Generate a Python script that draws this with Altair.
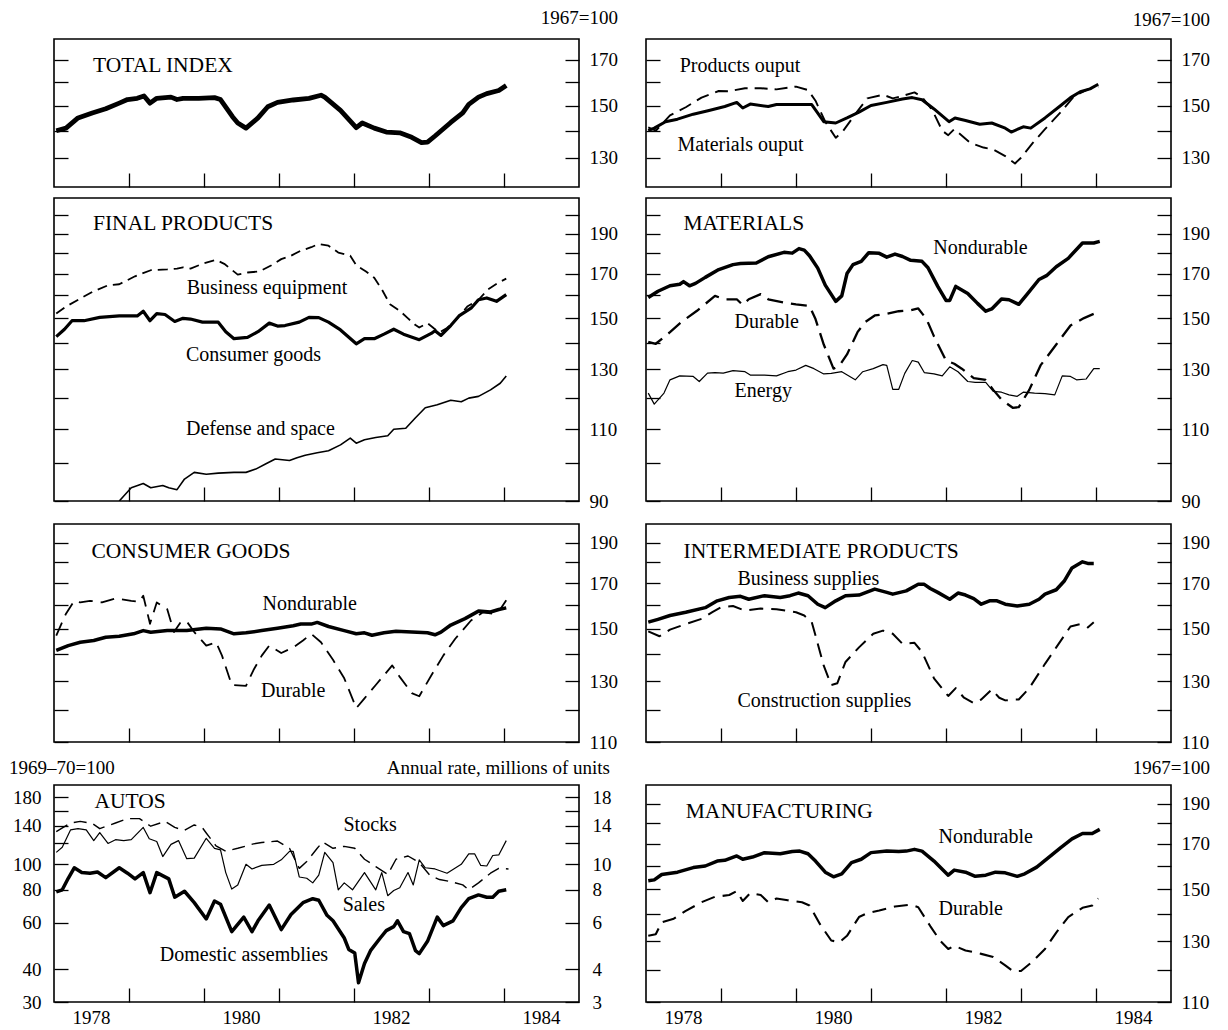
import altair as alt
import pandas as pd

BASE_YEAR = 1978
FONT = "Liberation Serif"
PANEL_W = 525

# ---------------- data: t = years after Jan 1978, v = index (1967=100) ----------------
TOTAL_T = [.03, .16, .32, .51, .69, .87, .98, 1.11, 1.2, 1.28, 1.37, 1.56, 1.64, 1.72, 1.93, 2.14, 2.22, 2.38, 2.45, 2.56,
           2.72, 2.85, 2.98, 3.19, 3.4, 3.56, 3.61, 3.82, 4.03, 4.11, 4.27, 4.43, 4.61, 4.77, 4.9, 4.98, 5.08, 5.29, 5.45,
           5.53, 5.66, 5.77, 5.93, 6.03]
TOTAL_V = [140, 141, 145, 147, 148.7, 151, 152.5, 153, 154, 151, 153, 153.5, 152.5, 153, 153, 153.3, 152.5, 145.5, 143, 141,
           145, 149.5, 151.3, 152.3, 153, 154.3, 153.5, 148, 141.2, 143, 141, 139.5, 139.2, 137.5, 135.5, 135.7, 138, 143.2,
           147, 150.5, 153.5, 155, 156.3, 158.5]

PROD_T = [.03, .11, .26, .42, .63, .84, 1.05, 1.21, 1.29, 1.39, 1.63, 1.74, 2.21, 2.37, 2.53, 2.68, 2.84, 3.0, 3.21, 3.42,
          3.55, 3.68, 3.84, 4.04, 4.12, 4.26, 4.45, 4.61, 4.79, 4.87, 5.03, 5.13, 5.32, 5.53, 5.66, 5.79, 5.92, 6.03]
PROD_V = [140, 141, 143.5, 144.5, 146.5, 148, 149.6, 151.3, 149, 150.6, 149.6, 150.4, 150.4, 143.5, 143, 145, 147.3, 150,
          151.3, 152.7, 153.3, 152.4, 148.6, 143.5, 145, 144, 142.5, 143, 141, 139.5, 141.5, 141, 145, 150, 153.3, 155.8,
          157, 159]
MATOUT_T = [.03, .13, .32, .53, .74, .97, 1.11, 1.32, 1.53, 1.74, 2.0, 2.16, 2.26, 2.39, 2.53, 2.63, 2.79, 2.95, 3.16, 3.29,
            3.42, 3.58, 3.68, 3.82, 3.95, 4.03, 4.11, 4.32, 4.5, 4.63, 4.79, 4.92, 5.0, 5.16, 5.32, 5.53, 5.71, 5.89, 6.03]
MATOUT_V = [141.3, 140, 146, 149.3, 153.3, 156.1, 156, 157.3, 157.3, 156.8, 158, 156.5, 152, 143.5, 137.3, 140, 146.5, 153,
            154.5, 153, 154, 155.5, 153.6, 148, 140, 138.3, 140.6, 135.5, 133.7, 133, 130.6, 128, 130, 135.5, 140.6, 147.3,
            154, 156.8, 158]

BUSEQ_T = [.03, .16, .35, .51, .72, .87, 1.08, 1.29, 1.51, 1.64, 1.72, 1.82, 1.98, 2.16, 2.27, 2.45, 2.58, 2.74, 2.9, 3.03,
           3.16, 3.29, 3.43, 3.53, 3.66, 3.79, 3.95, 4.03, 4.16, 4.27, 4.37, 4.48, 4.61, 4.72, 4.82, 4.87, 4.98, 5.06, 5.14,
           5.24, 5.35, 5.51, 5.66, 5.79, 5.93, 6.03]
BUSEQ_V = [152, 155, 158.5, 161.5, 164.5, 165, 168.7, 171.6, 172, 172.4, 173, 172.4, 174.7, 176.6, 174.7, 169.5, 170.5, 171,
           174, 177, 178.7, 181.2, 183, 184.7, 183.8, 180.3, 178.7, 174, 171, 168, 162.7, 156, 153.2, 150, 147.2, 146.2,
           148, 146, 144.2, 146, 149, 155, 158, 162.7, 165.8, 167.6]
CONS_T = [.03, .14, .24, .4, .61, .87, 1.11, 1.19, 1.28, 1.37, 1.48, 1.61, 1.72, 1.82, 1.98, 2.19, 2.29, 2.4, 2.58, 2.72,
          2.87, 2.98, 3.08, 3.27, 3.4, 3.53, 3.66, 3.82, 4.03, 4.14, 4.27, 4.4, 4.53, 4.66, 4.87, 5.03, 5.08, 5.16, 5.29,
          5.4, 5.56, 5.66, 5.77, 5.9, 6.03]
CONS_V = [142.5, 145.5, 149, 149, 150.4, 151, 151, 153, 149, 152, 151.6, 148.7, 150, 149.7, 148.4, 148.4, 144.5, 141.7,
          142.2, 144.5, 148, 146.8, 147, 148.4, 150.4, 150.3, 148.4, 145.2, 139.7, 141.7, 141.7, 143.5, 145.5, 143.5,
          141.3, 143.8, 144.9, 143, 147, 151, 154.3, 158, 158.8, 157.3, 160.3]
DEF_T = [.87, 1.03, 1.19, 1.29, 1.45, 1.53, 1.64, 1.74, 1.87, 2.03, 2.19, 2.4, 2.56, 2.69, 2.82, 2.95, 3.14, 3.24, 3.35,
         3.51, 3.66, 3.82, 3.95, 4.03, 4.14, 4.29, 4.45, 4.53, 4.69, 4.82, 4.95, 5.11, 5.29, 5.43, 5.53, 5.66, 5.82, 5.95,
         6.03]
DEF_V = [90, 93.4, 94.5, 93.4, 94, 93.4, 92.9, 95.7, 97.5, 97, 97.3, 97.5, 97.5, 98.4, 99.8, 101.2, 100.8, 101.6, 102.3,
         103, 103.6, 105.3, 107.3, 105.8, 106.8, 107.5, 108, 110, 110.3, 113.6, 116.8, 117.8, 119.3, 118.8, 120, 120.6,
         122.8, 125.1, 127.7]

MATND_T = [.03, .16, .32, .45, .5, .58, .66, .79, .97, 1.16, 1.26, 1.47, 1.63, 1.84, 1.95, 2.04, 2.11, 2.18, 2.29, 2.39,
           2.53, 2.61, 2.68, 2.76, 2.87, 2.97, 3.11, 3.21, 3.32, 3.42, 3.53, 3.68, 3.76, 3.89, 4.0, 4.05, 4.13, 4.29, 4.42,
           4.53, 4.61, 4.74, 4.84, 4.97, 5.08, 5.24, 5.34, 5.47, 5.63, 5.82, 5.97, 6.05]
MATND_V = [159, 161.8, 164.3, 165, 166.2, 164.3, 165.4, 168.2, 171.9, 174.3, 174.8, 175.1, 178.2, 180.4, 180, 182.3, 181.5,
           178.7, 172.6, 164.6, 157.3, 159.7, 170, 174.3, 175.9, 180.2, 179.9, 178, 179.5, 178.3, 176.4, 175.9, 172.8, 164,
           157.7, 157.7, 164, 160.8, 156.4, 153, 154, 158.3, 158, 156, 160.4, 167.2, 169, 173.3, 177.4, 185.2, 185.2, 186]
MATD_T = [.03, .13, .32, .47, .68, .92, 1.05, 1.21, 1.29, 1.37, 1.53, 1.63, 1.84, 2.0, 2.18, 2.26, 2.37, 2.5, 2.58, 2.68,
          2.82, 2.92, 3.05, 3.21, 3.37, 3.53, 3.63, 3.74, 3.84, 4.0, 4.11, 4.21, 4.37, 4.53, 4.63, 4.74, 4.89, 4.97, 5.11,
          5.26, 5.47, 5.66, 5.84, 6.05]
MATD_V = [140.4, 139.7, 144.3, 148.4, 153.2, 159.7, 158.2, 158.2, 155.7, 158.2, 160.5, 158.2, 156.8, 156, 155.3, 149.7,
          139.4, 130.3, 131.5, 135.6, 144.3, 148.4, 151.2, 151.9, 153, 153.4, 154.2, 149.7, 142.6, 133.3, 132.1, 130.3,
          126.9, 126.3, 122.8, 119.5, 116.8, 117, 122.8, 131.5, 139.4, 147, 150.1, 153]
ENERGY_T = [.03, .11, .24, .32, .45, .63, .71, .82, .92, 1.03, 1.16, 1.32, 1.39, 1.58, 1.74, 1.89, 2.0, 2.13, 2.24, 2.37,
            2.47, 2.61, 2.79, 2.89, 3.03, 3.16, 3.21, 3.29, 3.37, 3.45, 3.55, 3.63, 3.71, 3.84, 3.95, 4.05, 4.16, 4.29,
            4.39, 4.53, 4.63, 4.74, 4.84, 4.95, 5.03, 5.18, 5.32, 5.45, 5.55, 5.66, 5.74, 5.87, 5.97, 6.05]
ENERGY_V = [121.7, 118, 121.7, 126.3, 127.7, 127.5, 125.7, 128.7, 128.9, 128.7, 129.6, 129.2, 128, 128, 127.7, 129.2,
            129.8, 131.5, 130.3, 128.4, 128.6, 129.2, 126.3, 129.2, 130.3, 131.8, 131.5, 123, 123, 128.6, 133.3, 132.7,
            128.9, 128.4, 127.7, 131, 129.2, 125.7, 125.4, 125.4, 122.3, 122, 121.1, 120.6, 122, 121.7, 121.5, 121.1,
            127.7, 127.5, 126.3, 126.6, 130.3, 130.3]

CGND_T = [.03, .19, .35, .53, .69, .87, 1.06, 1.19, 1.29, 1.51, 1.77, 2.03, 2.22, 2.4, 2.56, 2.77, 2.98, 3.19, 3.29, 3.43,
          3.51, 3.66, 3.87, 4.03, 4.14, 4.24, 4.4, 4.56, 4.77, 4.98, 5.08, 5.16, 5.29, 5.48, 5.66, 5.82, 5.93, 6.03]
CGND_V = [141.4, 143.3, 144.6, 145.3, 146.6, 147, 148, 149.3, 148.6, 149.3, 149.3, 150.3, 150, 148, 148.4, 149.3, 150.3,
          151.3, 152, 152, 152.7, 151, 149.3, 148, 148.4, 147.4, 148.4, 149, 148.7, 148.4, 147.6, 148.7, 151.6, 154.3,
          157.5, 157.1, 158.2, 158.9]
CGD_T = [.03, .16, .27, .35, .48, .64, .82, 1.03, 1.14, 1.19, 1.28, 1.37, 1.51, 1.6, 1.69, 1.77, 1.87, 2.03, 2.16, 2.24,
         2.37, 2.56, 2.66, 2.77, 2.87, 3.03, 3.19, 3.32, 3.43, 3.56, 3.72, 3.87, 4.03, 4.14, 4.29, 4.51, 4.61, 4.77, 4.87,
         5.03, 5.19, 5.35, 5.56, 5.72, 5.87, 5.95, 6.03]
CGD_V = [147.3, 156.4, 162, 161.3, 162, 161.3, 163.1, 162, 161.6, 164.3, 152.1, 161.3, 158.3, 148.7, 152.8, 153.1, 148.7,
         143.3, 144.6, 139.4, 128.6, 128.3, 134, 139.4, 143.3, 140.4, 142.6, 145.3, 148, 144.6, 137.8, 131, 120.7, 124,
         128.6, 135.7, 131.5, 125.8, 124.7, 132, 139.4, 146, 153.5, 157, 156.3, 158.3, 162.3]

BUSSUP_T = [.03, .16, .32, .53, .79, .95, 1.11, 1.26, 1.37, 1.58, 1.79, 1.92, 2.03, 2.16, 2.29, 2.39, 2.53, 2.66, 2.84,
            3.05, 3.21, 3.29, 3.47, 3.63, 3.71, 3.79, 3.89, 4.05, 4.16, 4.26, 4.37, 4.47, 4.58, 4.68, 4.79, 4.95, 5.11,
            5.24, 5.32, 5.47, 5.58, 5.68, 5.82, 5.89, 5.97]
BUSSUP_V = [152.8, 154, 155.6, 157, 159, 162, 163.5, 164, 162.7, 164.3, 163.5, 164.3, 165.5, 164.3, 160.5, 159, 162, 164.3,
            164.6, 167.3, 165.8, 165, 166.5, 169.5, 169.5, 167.6, 165.8, 162.7, 165.5, 164.6, 163, 160.5, 162, 162, 160.5,
            159.7, 160.5, 162.7, 165, 167, 171.2, 177.3, 180.3, 179.5, 179.5]
CONSTR_T = [.03, .18, .32, .53, .74, .89, 1.0, 1.16, 1.32, 1.53, 1.74, 2.0, 2.11, 2.21, 2.26, 2.37, 2.47, 2.55, 2.66, 2.84,
            3.03, 3.16, 3.29, 3.42, 3.58, 3.68, 3.84, 4.03, 4.13, 4.24, 4.37, 4.47, 4.61, 4.71, 4.79, 4.92, 4.97, 5.11,
            5.32, 5.47, 5.66, 5.79, 5.89, 5.97]
CONSTR_V = [149, 147, 149.7, 152, 154.2, 157.2, 159.2, 159.7, 157.7, 158.6, 158.3, 157, 155.6, 152.8, 147.3, 135.6, 128.6,
            129.2, 137, 142.6, 148, 149.3, 148, 144, 144.4, 140.8, 131, 124.8, 127.5, 124.2, 122.4, 123.6, 127, 124.2,
            123.3, 123.6, 123.6, 127.5, 136.3, 142.6, 151, 152, 150.6, 152.8]

MFND_T = [.03, .11, .21, .42, .63, .79, .95, 1.05, 1.21, 1.29, 1.42, 1.58, 1.79, 1.95, 2.05, 2.16, 2.26, 2.39, 2.5, 2.61,
          2.74, 2.87, 3.0, 3.21, 3.37, 3.47, 3.58, 3.68, 3.84, 4.03, 4.11, 4.26, 4.39, 4.53, 4.66, 4.79, 4.95, 5.05, 5.21,
          5.37, 5.53, 5.68, 5.82, 5.95, 6.05]
MFND_V = [153.6, 154, 156.3, 157.3, 159.3, 160, 162.2, 162.5, 164.5, 163, 164, 166, 165.5, 166.5, 166.7, 165.5, 162.2,
          157.3, 155.3, 156.6, 161.5, 163, 166, 166.7, 166.5, 166.7, 167.5, 166.7, 162.2, 156, 158.2, 157.3, 155.5, 156,
          157.3, 157, 155.5, 156.6, 159.5, 163.8, 168.3, 172.4, 175, 175, 177]
MFD_T = [.03, .13, .21, .37, .53, .74, .92, 1.11, 1.21, 1.29, 1.39, 1.53, 1.63, 1.74, 1.89, 2.08, 2.18, 2.32, 2.47, 2.58,
         2.68, 2.84, 2.95, 3.11, 3.32, 3.53, 3.63, 3.79, 3.92, 4.03, 4.11, 4.26, 4.47, 4.63, 4.79, 4.89, 5.0, 5.16, 5.32,
         5.47, 5.63, 5.82, 5.95, 6.03]
MFD_V = [132, 132.6, 137, 138.4, 141.4, 144.8, 147, 147.7, 149.3, 145.3, 148.5, 147.7, 144.8, 146.3, 145.6, 144.8, 143.5,
         136.3, 130.3, 129.7, 132, 139, 140.5, 141.5, 143.1, 143.8, 142.8, 135.6, 130.3, 127.3, 128.4, 126.8, 125.6, 124.5,
         121.7, 119.8, 119.8, 123.1, 127.3, 133.2, 139, 142.6, 143.5, 146.3]

# Autos: assemblies index (1969-70=100); sales and stocks in millions of units (annual rate)
ASSEM_T = [.03, .11, .19, .27, .37, .48, .58, .69, .87, .98, 1.08, 1.19, 1.28, 1.37, 1.53, 1.61, 1.74, 1.87, 2.03, 2.14,
           2.22, 2.37, 2.53, 2.64, 2.72, 2.87, 3.03, 3.16, 3.32, 3.45, 3.53, 3.64, 3.72, 3.87, 3.93, 4.01, 4.06, 4.14,
           4.22, 4.35, 4.43, 4.53, 4.58, 4.66, 4.74, 4.82, 4.87, 4.98, 5.11, 5.19, 5.32, 5.43, 5.53, 5.66, 5.77, 5.85,
           5.93, 6.03]
ASSEM_V = [78.5, 80, 88.5, 97, 93, 92.5, 93.5, 89, 97, 92.5, 88, 93, 78, 93, 88, 75, 79, 71.5, 62, 72.5, 70.5, 55.5, 63,
           55.5, 61, 70, 56.5, 64.5, 71.5, 74, 73, 64, 61, 52.5, 47.5, 46, 35.5, 42, 47, 52.5, 56, 58, 61, 55.5, 54.5,
           47, 45.8, 51, 63, 58.5, 61, 68.5, 74, 76.5, 75, 75, 79, 80]
SALES_T = [.03, .11, .22, .32, .43, .53, .61, .72, .82, .93, 1.03, 1.19, 1.27, 1.37, 1.45, 1.56, 1.66, 1.77, 1.87, 2.03,
           2.14, 2.22, 2.29, 2.37, 2.45, 2.56, 2.64, 2.77, 2.93, 3.03, 3.14, 3.19, 3.27, 3.37, 3.45, 3.53, 3.61, 3.72,
           3.79, 3.87, 3.98, 4.14, 4.29, 4.37, 4.45, 4.53, 4.61, 4.72, 4.79, 4.87, 4.95, 5.08, 5.24, 5.43, 5.53, 5.61,
           5.69, 5.77, 5.85, 5.93, 6.03]
SALES_V = [11.1, 11.6, 13.5, 13.65, 13.5, 12.3, 13.2, 12.0, 12.4, 12.3, 12.4, 13.8, 12.5, 12.2, 10.7, 11.9, 12.3, 10.5,
           10.55, 12.55, 11.5, 11.35, 9.3, 8.05, 8.35, 10.0, 9.6, 9.9, 10.0, 10.4, 11.2, 11.2, 8.95, 8.85, 8.5, 9.1, 11.1,
           10.15, 8.0, 8.5, 8.0, 9.3, 8.0, 9.3, 7.6, 7.95, 8.15, 9.3, 8.35, 10.4, 9.7, 9.6, 9.25, 10.0, 10.95, 10.95, 9.9,
           9.85, 10.8, 10.85, 12.3]
STOCKS_T = [.03, .22, .35, .51, .61, .82, .98, 1.14, 1.29, 1.48, 1.61, 1.74, 1.87, 1.98, 2.03, 2.16, 2.29, 2.45, 2.66,
            2.77, 2.98, 3.14, 3.27, 3.37, 3.51, 3.58, 3.72, 3.87, 4.01, 4.14, 4.29, 4.45, 4.56, 4.72, 4.87, 5.01, 5.14,
            5.29, 5.45, 5.53, 5.66, 5.82, 5.93, 6.06]
STOCKS_V = [13.3, 14.35, 14.55, 14.3, 13.65, 14.35, 14.9, 14.9, 13.95, 14.55, 13.8, 13.45, 14.1, 13.75, 13.15, 11.75, 11.2,
            11.5, 11.95, 12.1, 12.25, 11.5, 9.65, 10.25, 11.5, 12.15, 11.5, 11.7, 11.5, 10.45, 9.8, 9.15, 10.45, 10.75,
            10.15, 9.1, 8.75, 8.6, 8.35, 8.0, 8.5, 9.25, 9.65, 9.6]

# axis ticks / labels
X_TICKS = [1979, 1980, 1981, 1982, 1983, 1984]
YEAR_LABELS = [1978, 1980, 1982, 1984]
R1_TICKS = [130, 140, 150, 160, 170]
R1_LABELS = [130, 150, 170]
R2_TICKS = [90, 100, 110, 120, 130, 140, 150, 160, 170, 180, 190, 200]
R2_LABELS = [90, 110, 130, 150, 170, 190]
R3_TICKS = [110, 120, 130, 140, 150, 160, 170, 180, 190]
R3_LABELS = [110, 130, 150, 170, 190]
AUTO_L_TICKS = [30, 40, 60, 80, 100, 120, 140, 160, 180]
AUTO_L_LABELS = [30, 40, 60, 80, 100, 140, 180]
AUTO_R_TICKS = [3, 4, 6, 8, 10, 12, 14, 16, 18]
AUTO_R_LABELS = [3, 4, 6, 8, 10, 14, 18]

TICK = 14


def series_df(t, v):
    return pd.DataFrame({"t": [round(BASE_YEAR + a, 3) for a in t], "v": v})


def x_enc():
    return alt.X("t:Q", scale=alt.Scale(domain=[1978, 1985], nice=False, zero=False),
                 axis=alt.Axis(orient="bottom", values=X_TICKS, tickSize=TICK, offset=-TICK, labels=False,
                               domain=False, grid=False, title=None))


def label_expr(labels):
    return "indexof(%s, datum.value) >= 0 ? format(datum.value, 'd') : ''" % str(list(labels))


def left_axis(ticks, labels=None, pad=13):
    if labels:
        return alt.Axis(orient="left", values=ticks, tickSize=TICK, offset=-TICK, domain=False, grid=False,
                        title=None, labelPadding=pad, labelExpr=label_expr(labels))
    return alt.Axis(orient="left", values=ticks, tickSize=TICK, offset=-TICK, domain=False, grid=False,
                    title=None, labels=False)


def right_axis(ticks, labels, pad=10):
    return alt.Axis(orient="right", values=ticks, tickSize=TICK, offset=-TICK, domain=False, grid=False,
                    title=None, labelPadding=pad, labelExpr=label_expr(labels))


def log_scale(dom):
    return alt.Scale(type="log", domain=dom, nice=False)


def line(t, v, X, Y, width, dash=None):
    props = dict(color="black", strokeWidth=width, clip=True, strokeJoin="round")
    if dash:
        props["strokeDash"] = dash
    return alt.Chart(series_df(t, v)).mark_line(**props).encode(x=X, y=Y)


def texts(items, X, Y):
    # panel titles (all capitals) are set a little larger than the series labels
    df = pd.DataFrame({"t": [a for a, _, _ in items], "v": [b for _, b, _ in items],
                       "label": [c for _, _, c in items],
                       "fs": [21.5 if c.isupper() else 20 for _, _, c in items]})
    return alt.Chart(df).mark_text(align="left", baseline="middle", font=FONT,
                                   color="black").encode(x=X, y=Y, text="label:N",
                                                         size=alt.Size("fs:Q", scale=None, legend=None))


def year_labels(X, h):
    df = pd.DataFrame({"t": [y + 0.5 for y in YEAR_LABELS], "label": [str(y) for y in YEAR_LABELS]})
    return alt.Chart(df).mark_text(align="center", baseline="middle", font=FONT, fontSize=19,
                                   color="black").encode(x=X, y=alt.value(h + 16), text="label:N")


def note(text, x, y, align):
    return alt.Chart(pd.DataFrame({"label": [text]})).mark_text(
        align=align, baseline="middle", font=FONT, fontSize=19, color="black"
    ).encode(x=alt.value(x), y=alt.value(y), text="label:N")


def index_panel(lines, dom, ticks, labels, label_items, h, extras=None, years=False):
    X = x_enc()
    Y = alt.Y("v:Q", scale=log_scale(dom), axis=left_axis(ticks))
    layers = [line(t, v, X, Y, w, d) for (t, v, w, d) in lines]
    layers.append(texts(label_items, X, Y))
    if years:
        layers.append(year_labels(X, h))
    for e in (extras or []):
        layers.append(e)
    group = alt.layer(*layers)
    dummy = alt.Chart(pd.DataFrame({"v": ticks})).mark_point(opacity=0).encode(
        y=alt.Y("v:Q", scale=log_scale(dom), axis=right_axis(ticks, labels)))
    return alt.layer(group, dummy).resolve_scale(y="independent").properties(width=PANEL_W, height=h)


def spacer(h):
    return alt.Chart(pd.DataFrame({"v": [0]})).mark_point(opacity=0).properties(
        width=PANEL_W, height=h, view=alt.ViewBackground(stroke="transparent"))


H1, H2, H3, H4 = 148, 303, 218, 217
DASH = [13, 7]

p_total = index_panel([(TOTAL_T, TOTAL_V, 4.8, None)], [120, 180], R1_TICKS, R1_LABELS,
                      [(1978.52, 167, "TOTAL INDEX")], H1,
                      extras=[note("1967=100", PANEL_W + 39, -21, "right")])
p_output = index_panel([(PROD_T, PROD_V, 3, None), (MATOUT_T, MATOUT_V, 1.9, DASH)], [120, 180], R1_TICKS, R1_LABELS,
                       [(1978.45, 167, "Products ouput"), (1978.42, 134.5, "Materials ouput")], H1,
                       extras=[note("1967=100", PANEL_W + 39, -19, "right")])
p_final = index_panel([(BUSEQ_T, BUSEQ_V, 1.8, [10, 6]), (CONS_T, CONS_V, 3.2, None), (DEF_T, DEF_V, 1.6, None)],
                      [90, 210], R2_TICKS, R2_LABELS,
                      [(1978.52, 195.5, "FINAL PRODUCTS"), (1979.77, 163.5, "Business equipment"),
                       (1979.76, 135.3, "Consumer goods"), (1979.76, 110, "Defense and space")], H2)
p_materials = index_panel([(MATND_T, MATND_V, 3.5, None), (MATD_T, MATD_V, 2.3, [16, 8]),
                           (ENERGY_T, ENERGY_V, 1.2, None)],
                          [90, 210], R2_TICKS, R2_LABELS,
                          [(1978.5, 195.5, "MATERIALS"), (1981.83, 182.7, "Nondurable"), (1979.18, 148.4, "Durable"),
                           (1979.18, 122.3, "Energy")], H2)
p_consumer = index_panel([(CGND_T, CGND_V, 3.5, None), (CGD_T, CGD_V, 1.8, [14, 8])],
                         [110, 200], R3_TICKS, R3_LABELS,
                         [(1978.5, 185.3, "CONSUMER GOODS"), (1980.78, 160.4, "Nondurable"),
                          (1980.76, 126.6, "Durable")], H3)
p_intermediate = index_panel([(BUSSUP_T, BUSSUP_V, 3.5, None), (CONSTR_T, CONSTR_V, 2, [14, 8])],
                             [110, 200], R3_TICKS, R3_LABELS,
                             [(1978.5, 185, "INTERMEDIATE PRODUCTS"), (1979.22, 172, "Business supplies"),
                              (1979.22, 123, "Construction supplies")], H3)
p_manuf = index_panel([(MFND_T, MFND_V, 3.5, None), (MFD_T, MFD_V, 2.1, [14, 8])],
                      [110, 200], R3_TICKS, R3_LABELS,
                      [(1978.53, 185.5, "MANUFACTURING"), (1981.9, 173.4, "Nondurable"), (1981.9, 142, "Durable")],
                      H4, extras=[note("1967=100", PANEL_W + 39, -17, "right")], years=True)

# Autos panel: left ratio scale (1969-70=100), right ratio scale (millions of units)
Xa = x_enc()
YL = alt.Y("v:Q", scale=log_scale([30, 200]), axis=left_axis(AUTO_L_TICKS, AUTO_L_LABELS))
YR = alt.Y("v:Q", scale=log_scale([3, 20]), axis=right_axis(AUTO_R_TICKS, AUTO_R_LABELS, pad=13))
autos_left = alt.layer(
    line(ASSEM_T, ASSEM_V, Xa, YL, 3.5),
    texts([(1978.54, 172, "AUTOS"), (1979.41, 45.3, "Domestic assemblies")], Xa, YL),
    year_labels(Xa, H4),
    note("1969\u201370=100", -45, -17, "left"),
    note("Annual rate, millions of units", PANEL_W + 31, -17, "right"),
)
autos_right = alt.layer(
    line(SALES_T, SALES_V, Xa, YR, 1.2),
    line(STOCKS_T, STOCKS_V, Xa, YR, 1.4, [13, 7]),
    texts([(1981.86, 14.1, "Stocks"), (1981.85, 7.0, "Sales")], Xa, YR),
)
p_autos = alt.layer(autos_left, autos_right).resolve_scale(y="independent").properties(width=PANEL_W, height=H4)

ROW_GAP = 11
cells = [p_total, p_output,
         p_final, p_materials,
         spacer(1), spacer(1),
         p_consumer, p_intermediate,
         spacer(21), spacer(21),
         p_autos, p_manuf]
chart = alt.concat(*cells, columns=2, spacing=alt.RowColnumber(row=ROW_GAP, column=67),
                   bounds="flush", align="each").properties(
    padding={"left": 0, "top": 0, "right": 4, "bottom": 2}, background="white")

chart = chart.configure_view(stroke="black", strokeWidth=1.6).configure_axis(
    labelFont=FONT, labelFontSize=19, labelColor="black", tickColor="black", tickWidth=1.3)

chart.save("out.html", embed_options={"renderer": "svg", "actions": False})
